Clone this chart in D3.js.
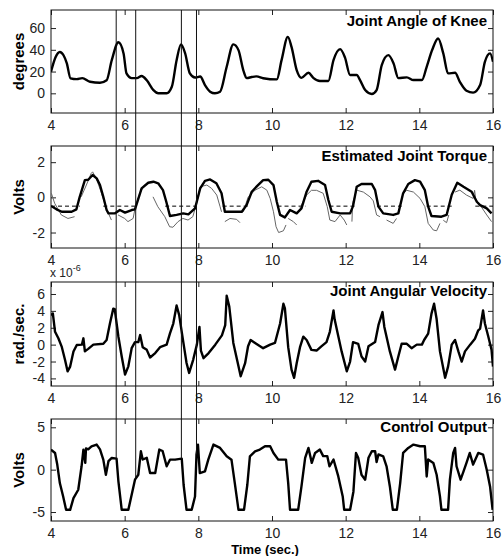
<!DOCTYPE html>
<html>
<head>
<meta charset="utf-8">
<script src="https://cdn.jsdelivr.net/npm/d3@7"></script>
<style>
  body { margin: 0; background: #fff; }
  text { font-family: "Liberation Sans", Arial, Helvetica, sans-serif; }
</style>
</head>
<body>
<div id="chart"></div>
<script>
// values, each point is [time (sec.), value]
var xTicks = [4, 6, 8, 10, 12, 14, 16];
var markerTimes = [5.77, 6.3, 7.54, 7.95];

var kneeAngle = [[4.0,19.8],[4.12,33],[4.24,38],[4.34,35],[4.43,27.5],[4.53,13.8],[4.7,13],[4.85,14],[5.06,10.6],[5.33,9.7],[5.51,12],
  [5.65,30.5],[5.83,47],[5.97,36.7],[6.05,18.3],[6.19,14],[6.33,14],[6.46,15.9],[6.6,12],[6.78,3],[6.91,0],[7.14,0],[7.28,6],
  [7.41,30.5],[7.53,45],[7.64,37],[7.77,18.3],[7.91,14.5],[8.05,15.4],[8.18,7.6],[8.32,1.5],[8.45,0],[8.59,1.5],[8.77,24.4],
  [8.95,45],[9.09,39.7],[9.22,21.4],[9.31,14],[9.45,15],[9.58,15.6],[9.76,13.9],[10.13,12.8],[10.26,30.5],[10.43,51.9],
  [10.53,42.7],[10.67,21.4],[10.8,14.2],[10.99,18.9],[11.12,14.2],[11.3,11.3],[11.53,11.3],[11.67,30.5],[11.85,40.6],[11.98,33],
  [12.12,16.8],[12.3,16.8],[12.39,12.2],[12.53,3],[12.71,-0.6],[12.84,3],[12.98,26],[13.16,35.1],[13.3,27.5],[13.43,14],
  [13.66,14.7],[13.84,12.2],[14.07,12.2],[14.2,24.4],[14.35,40],[14.51,50.4],[14.65,36.7],[14.78,18.3],[14.97,18.9],[15.1,10.6],
  [15.28,2.4],[15.46,0.6],[15.65,7.6],[15.78,29],[15.92,36.7],[16,29]];

var torqueEstimated = [[4.0,-0.49],[4.15,-0.68],[4.29,-0.82],[4.56,-0.82],[4.69,-0.68],[4.78,0.03],[4.92,0.98],[5.01,1.0],[5.13,1.27],
  [5.24,1.08],[5.33,0.7],[5.42,0.03],[5.51,-0.72],[5.56,-0.91],[5.74,-0.91],[5.87,-0.72],[6.01,-0.87],[6.19,-0.72],[6.28,-0.68],
  [6.46,0.51],[6.64,0.83],[6.78,0.89],[6.91,0.8],[7.04,0.41],[7.13,-0.25],[7.23,-1.06],[7.41,-1.0],[7.59,-0.91],[7.73,-0.97],
  [7.91,-0.63],[8.05,0.51],[8.18,0.94],[8.32,1.02],[8.49,0.8],[8.63,0.23],[8.72,-0.82],[8.95,-0.82],[9.18,-0.82],[9.31,-0.44],
  [9.45,0.32],[9.6,0.65],[9.76,0.98],[9.9,1.0],[10.04,0.7],[10.13,-0.25],[10.22,-1.0],[10.35,-1.14],[10.49,-0.72],[10.67,-0.91],
  [10.8,-0.63],[10.94,0.32],[11.07,0.89],[11.25,0.94],[11.44,0.7],[11.53,-0.15],[11.62,-0.82],[11.85,-0.91],[12.12,-0.91],
  [12.2,-0.5],[12.3,0.6],[12.43,0.76],[12.71,0.76],[12.8,0.41],[12.89,-0.53],[13.02,-0.91],[13.29,-1.0],[13.43,-0.91],[13.56,0.23],
  [13.7,0.76],[13.88,0.98],[14.02,0.89],[14.15,0.41],[14.24,-0.53],[14.33,-1.06],[14.6,-1.1],[14.74,-1.0],[14.88,0.15],[15.03,0.83],
  [15.2,0.6],[15.42,0.32],[15.56,-0.25],[15.65,-0.44],[15.83,-0.63],[15.96,-0.91]];

// thin grey trace, null = gap
var torqueMeasured = [[4.01,0.23],[4.1,-0.34],[4.28,-1.0],[4.46,-1.2],[4.64,-1.1],null,
  [4.82,0.03],[4.96,0.7],[5.09,1.36],[5.13,1.45],[5.23,1.08],[5.37,0.23],[5.5,-0.63],[5.64,-1.29],null,
  [5.82,-1.0],[6.0,-1.2],[6.09,-1.38],[6.23,-1.2],[6.29,-0.53],[6.41,0.23],[6.54,0.7],[6.68,0.85],null,
  [6.77,0.03],[6.9,-0.53],[7.09,-1.1],[7.22,-1.67],[7.31,-1.7],[7.45,-1.38],[7.58,-1.2],[7.72,-1.29],[7.85,-1.1],[7.96,-0.3],
  [8.05,0.6],[8.23,0.7],[8.36,0.51],[8.5,0.13],[8.59,-0.53],[8.63,-0.82],null,
  [8.72,-1.38],[8.86,-1.2],[9.04,-1.25],[9.13,-1.44],null,
  [9.22,-0.82],[9.35,0.0],[9.54,0.41],[9.72,0.6],[9.86,0.41],[9.95,-0.06],[10.04,-0.82],[10.11,-1.67],[10.18,-2.0],[10.31,-1.9],[10.38,-1.57],null,
  [10.44,-1.2],[10.58,-1.38],[10.67,-1.57],null,
  [10.76,-0.6],[10.94,0.13],[11.07,0.4],[11.21,0.4],[11.39,0.23],[11.5,-0.53],[11.57,-1.29],[11.71,-1.38],[11.85,-1.0],[11.96,-1.29],[12.03,-1.57],null,
  [12.17,-1.38],[12.19,-0.3],[12.3,0.41],[12.48,0.3],[12.66,0.03],[12.75,-0.2],[12.84,-1.0],[12.93,-1.1],null,
  [13.11,-1.29],[13.29,-1.48],[13.38,-1.2],null,
  [13.56,0.23],[13.66,0.4],[13.84,0.3],[14.02,-0.06],[14.15,-0.53],[14.24,-1.48],[14.38,-1.86],[14.47,-1.9],[14.56,-1.48],null,
  [14.65,-1.3],[14.74,-1.44],[14.8,-1.0],null,
  [14.97,0.3],[15.1,0.41],[15.28,0.13],[15.46,-0.06],[15.5,0.4],[15.53,-0.1],[15.65,-0.44],[15.83,-1.0],[15.96,-1.38]];

// dashed level, only visible in the low parts
var torqueThreshold = -0.5;
var thresholdSpans = [[4.0,4.78],[5.42,6.32],[7.1,7.92],[8.66,9.35],[10.15,10.92],[11.56,12.28],[12.85,13.52],[14.2,14.95],[15.52,16.0]];

var angularVelocity = [[4.0,3.47],[4.05,3.7],[4.11,1.52],[4.2,0.75],[4.29,-0.23],[4.38,-1.79],[4.45,-3.16],[4.52,-2.6],[4.61,-0.82],
  [4.7,-0.04],[4.84,0.0],[4.88,0.75],[4.92,-0.8],[5.01,-0.5],[5.15,0.0],[5.42,0.1],[5.51,0.55],[5.6,2.5],[5.69,4.26],[5.73,4.2],
  [5.83,0.94],[5.92,-1.4],[6.01,-3.55],[6.1,-2.57],[6.19,-0.42],[6.28,0.3],[6.37,0.3],[6.42,1.13],[6.49,-0.3],[6.6,-0.62],
  [6.69,-1.52],[6.83,-1.0],[6.96,-0.3],[7.14,0.0],[7.23,1.33],[7.32,2.5],[7.41,4.64],[7.48,3.5],[7.59,0.35],[7.68,-2.18],
  [7.75,-3.35],[7.86,-1.8],[7.96,0.0],[8.03,2.1],[8.07,-0.7],[8.14,-1.6],[8.28,-1.0],[8.46,0.0],[8.64,1.1],[8.73,2.3],[8.77,5.8],
  [8.84,4.5],[8.95,0.2],[9.09,-2.57],[9.15,-3.74],[9.27,-2.2],[9.35,-0.2],[9.42,0.55],[9.54,0.2],[9.76,-0.42],[9.95,0.0],
  [10.08,0.2],[10.22,2.5],[10.31,4.84],[10.35,4.3],[10.44,-0.3],[10.53,-2.96],[10.6,-3.93],[10.67,-2.2],[10.76,-0.3],[10.85,0.94],
  [10.94,0.55],[11.07,-0.62],[11.21,-0.7],[11.34,-0.2],[11.48,0.3],[11.57,1.52],[11.67,4.06],[11.7,3.0],[11.8,1.0],[11.89,-0.8],
  [12.03,-3.16],[12.12,-2.0],[12.2,0.3],[12.34,0.1],[12.43,-1.4],[12.53,-2.0],[12.62,-0.2],[12.8,0.3],[12.89,2.3],[13.0,3.86],
  [13.05,2.1],[13.2,-0.8],[13.34,-2.96],[13.43,-1.4],[13.52,0.1],[13.66,0.1],[13.79,-0.42],[13.93,0.0],[14.07,0.0],[14.13,0.55],
  [14.24,1.3],[14.33,3.67],[14.4,4.84],[14.47,3.0],[14.56,-0.8],[14.7,-3.93],[14.78,-2.6],[14.88,0.0],[14.97,0.55],[15.06,-0.8],
  [15.15,-2.0],[15.24,-0.8],[15.38,0.0],[15.51,0.7],[15.6,1.7],[15.65,1.9],[15.73,4.06],[15.78,2.5],[15.87,1.0],[15.96,-0.6],[16.0,-2.6]];

var controlOutput = [[4.0,2.37],[4.11,1.97],[4.17,0.6],[4.24,-1.58],[4.33,-3.16],[4.41,-4.74],[4.52,-4.74],[4.61,-3.36],[4.74,-2.37],
  [4.83,0.4],[4.88,2.37],[4.93,0.8],[4.95,2.5],[5.01,2.4],[5.1,2.76],[5.24,2.96],[5.33,2.4],[5.42,1.18],[5.49,-0.6],[5.56,1.0],
  [5.65,1.38],[5.78,1.3],[5.83,-1.38],[5.92,-4.74],[6.1,-4.74],[6.19,-2.96],[6.28,-1.18],[6.37,-0.6],[6.44,2.17],[6.49,1.2],
  [6.6,1.4],[6.69,-0.4],[6.83,-0.4],[6.94,2.37],[7.03,2.2],[7.14,0.4],[7.23,1.18],[7.37,1.18],[7.55,1.3],[7.6,-1.78],[7.68,-4.74],
  [7.82,-4.74],[7.91,-3.16],[7.95,1.8],[7.99,2.96],[8.04,-0.4],[8.18,-0.2],[8.27,1.18],[8.41,2.96],[8.59,2.57],[8.77,1.58],
  [8.9,1.18],[8.99,-1.58],[9.09,-4.74],[9.24,-4.74],[9.33,-1.78],[9.4,1.58],[9.54,2.17],[9.67,2.37],[9.81,2.76],[9.95,2.76],
  [10.04,1.97],[10.17,1.18],[10.38,1.18],[10.44,-1.58],[10.49,-4.74],[10.71,-4.74],[10.8,-1.98],[10.9,1.38],[10.99,2.57],
  [11.08,0.8],[11.17,1.97],[11.3,2.37],[11.39,1.6],[11.5,1.6],[11.56,0.4],[11.67,1.2],[11.8,-0.8],[11.92,-3.16],[11.96,-4.74],
  [12.12,-4.74],[12.21,-2.6],[12.28,1.97],[12.34,1.4],[12.43,-0.6],[12.53,-1.18],[12.62,1.4],[12.71,2.17],[12.8,2.17],[12.84,0.9],
  [12.89,1.8],[13.02,1.58],[13.11,0.4],[13.2,-1.98],[13.28,-4.74],[13.39,-4.74],[13.48,-1.58],[13.56,1.97],[13.7,2.57],[13.84,2.96],
  [14.02,2.76],[14.15,2.76],[14.2,-0.8],[14.24,1.2],[14.38,0.8],[14.47,-0.6],[14.56,-3.16],[14.6,-4.74],[14.78,-4.74],[14.83,-1.18],
  [14.92,1.97],[14.97,2.57],[15.01,0.4],[15.12,-1.18],[15.2,-0.2],[15.28,0.8],[15.37,1.97],[15.46,0.6],[15.6,1.97],[15.73,1.78],
  [15.83,0.0],[15.92,-1.98],[15.99,-4.74]];

// page layout
var W = 503, H = 556;
var plotLeft = 51, plotRight = 493;

var panels = [
  {top: 10,  bottom: 113, domain: [-18.1, 76.6], ticks: [0, 20, 40, 60],        label: "degrees",   title: "Joint Angle of Knee",      titleDy: 16},
  {top: 146, bottom: 248, domain: [-2.88, 2.92], ticks: [-2, 0, 2],             label: "Volts",     title: "Estimated Joint Torque",   titleDy: 15},
  {top: 282, bottom: 386, domain: [-4.9, 7.42],  ticks: [-4, -2, 0, 2, 4, 6],   label: "rad./sec.", title: "Joint Angular Velocity",   titleDy: 14},
  {top: 419, bottom: 521, domain: [-6.06, 5.98], ticks: [-5, 0, 5],             label: "Volts",     title: "Control Output",           titleDy: 13}
];

// plain hyphen minus like the original
var plainNum = function(d) { return String(d); };

var svg = d3.select("#chart")
  .append("svg")
    .attr("width", W)
    .attr("height", H);

var x = d3.scaleLinear().domain([4, 16]).range([plotLeft, plotRight]);

panels.forEach(function(p, i) {
  p.y = d3.scaleLinear().domain(p.domain).range([p.bottom, p.top]);

  svg.append("clipPath")
      .attr("id", "clip" + i)
    .append("rect")
      .attr("x", plotLeft)
      .attr("y", p.top)
      .attr("width", plotRight - plotLeft)
      .attr("height", p.bottom - p.top);

  // ticks pointing inwards on all four sides
  var bottom = svg.append("g")
      .attr("transform", "translate(0," + p.bottom + ")")
      .call(d3.axisBottom(x).tickValues(xTicks).tickSize(-5).tickPadding(7).tickFormat(plainNum));
  var top = svg.append("g")
      .attr("transform", "translate(0," + p.top + ")")
      .call(d3.axisTop(x).tickValues(xTicks).tickSize(-5).tickFormat(""));
  var leftAx = svg.append("g")
      .attr("transform", "translate(" + plotLeft + ",0)")
      .call(d3.axisLeft(p.y).tickValues(p.ticks).tickSize(-5).tickPadding(6).tickFormat(plainNum));
  var rightAx = svg.append("g")
      .attr("transform", "translate(" + plotRight + ",0)")
      .call(d3.axisRight(p.y).tickValues(p.ticks).tickSize(-5).tickFormat(""));

  [bottom, top, leftAx, rightAx].forEach(function(g) {
    g.select(".domain").remove();
    g.selectAll("line").attr("stroke", "#222");
    g.selectAll("text")
      .attr("font-family", "Liberation Sans, Arial, sans-serif")
      .attr("font-size", 14)
      .attr("fill", "#222");
  });

  svg.append("rect")
      .attr("x", plotLeft)
      .attr("y", p.top)
      .attr("width", plotRight - plotLeft)
      .attr("height", p.bottom - p.top)
      .attr("fill", "none")
      .attr("stroke", "#111")
      .attr("stroke-width", 1);

  svg.append("text")
      .attr("transform", "translate(24," + ((p.top + p.bottom) / 2) + ")rotate(-90)")
      .attr("text-anchor", "middle")
      .attr("font-size", 15)
      .attr("font-weight", "bold")
      .text(p.label);

  svg.append("text")
      .attr("x", plotRight - 6)
      .attr("y", p.top + p.titleDy)
      .attr("text-anchor", "end")
      .attr("font-size", 15)
      .attr("font-weight", "bold")
      .text(p.title);
});

function lineFor(p, curve) {
  return d3.line()
    .defined(function(d) { return d !== null; })
    .x(function(d) { return x(d[0]); })
    .y(function(d) { return p.y(d[1]); })
    .curve(curve || d3.curveLinear);
}

function drawSeries(i, data, stroke, width, dash, curve) {
  svg.append("path")
      .datum(data)
      .attr("clip-path", "url(#clip" + i + ")")
      .attr("fill", "none")
      .attr("stroke", stroke)
      .attr("stroke-width", width)
      .attr("stroke-dasharray", dash)
      .attr("stroke-linejoin", "round")
      .attr("d", lineFor(panels[i], curve));
}

// knee angle
drawSeries(0, kneeAngle, "#000", 2.4, null, d3.curveMonotoneX);

// torque: dashed level, grey measured trace, thick estimate
thresholdSpans.forEach(function(s) {
  drawSeries(1, [[s[0], torqueThreshold], [s[1], torqueThreshold]], "#000", 1, "4,3");
});
drawSeries(1, torqueMeasured, "#666", 1, null);
drawSeries(1, torqueEstimated, "#000", 2.4, null);

// velocity and control output
drawSeries(2, angularVelocity, "#000", 2.4, null);
drawSeries(3, controlOutput, "#000", 2.4, null);

// x 10^-6 multiplier above the velocity panel
var expo = svg.append("text")
    .attr("x", 50)
    .attr("y", 277)
    .attr("font-size", 12)
    .attr("fill", "#222");
expo.append("tspan").text("x 10");
expo.append("tspan").attr("dy", -6).attr("font-size", 9).text("-6");

svg.append("text")
    .attr("x", 265)
    .attr("y", 554)
    .attr("text-anchor", "middle")
    .attr("font-size", 13)
    .attr("font-weight", "bold")
    .text("Time (sec.)");

// vertical markers running down to the control output curve
var bisect = d3.bisector(function(d) { return d[0]; }).left;
function controlAt(t) {
  var i = bisect(controlOutput, t);
  var a = controlOutput[i - 1], b = controlOutput[i];
  return a[1] + (b[1] - a[1]) * (t - a[0]) / (b[0] - a[0]);
}

svg.append("g")
  .selectAll("line")
  .data(markerTimes)
  .enter().append("line")
    .attr("x1", function(d) { return x(d); })
    .attr("x2", function(d) { return x(d); })
    .attr("y1", panels[0].top)
    .attr("y2", function(d) { return panels[3].y(controlAt(d)); })
    .attr("stroke", "#111")
    .attr("stroke-width", 1);
</script>
</body>
</html>
